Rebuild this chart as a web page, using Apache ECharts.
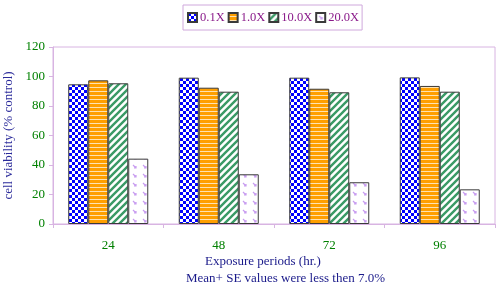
<!DOCTYPE html>
<html>
<head>
<meta charset="utf-8">
<script src="https://cdn.jsdelivr.net/npm/echarts@6/dist/echarts.min.js"></script>
<style>
  html, body { margin: 0; padding: 0; background: #fff; }
  #main { width: 500px; height: 286px; }
</style>
</head>
<body>
<div id="main"></div>
<script>
// data
var periods = ['24', '48', '72', '96'];
var doseNames = ['0.1X', '1.0X', '10.0X', '20.0X'];
var dose01 = [94.7, 99.2, 99.2, 99.4];
var dose1 = [97.4, 92.4, 91.7, 93.6];
var dose10 = [95.4, 89.7, 89.3, 89.7];
var dose20 = [44.3, 33.7, 28.3, 23.5];

var FONT = '"Liberation Serif", serif';

// small canvas tiles used as bar fills
function tile(w, h, draw) {
  var c = document.createElement('canvas');
  c.width = w; c.height = h;
  var ctx = c.getContext('2d');
  ctx.fillStyle = '#fff';
  ctx.fillRect(0, 0, w, h);
  draw(ctx);
  return { image: c, repeat: 'repeat' };
}

var checker = tile(6, 6, function (ctx) {
  ctx.fillStyle = '#0000ff';
  ctx.fillRect(0, 0, 3, 3);
  ctx.fillRect(3, 3, 3, 3);
});

var hstripe = tile(4, 4, function (ctx) {
  ctx.fillStyle = '#ff9f00';
  ctx.fillRect(0, 0, 4, 3);
  ctx.fillStyle = '#ffe2b0';
  ctx.fillRect(0, 3, 4, 1);
});

var diag = tile(7, 7, function (ctx) {
  ctx.strokeStyle = '#3a9a66';
  ctx.lineWidth = 2.4;
  ctx.beginPath();
  ctx.moveTo(-2, 9); ctx.lineTo(9, -2);
  ctx.moveTo(-2, 2); ctx.lineTo(2, -2);
  ctx.moveTo(5, 9); ctx.lineTo(9, 5);
  ctx.stroke();
});

var marks = tile(10, 9, function (ctx) {
  ctx.strokeStyle = '#c89cf0';
  ctx.lineWidth = 1.2;
  ctx.beginPath();
  ctx.moveTo(3, 3); ctx.lineTo(6, 6);
  ctx.moveTo(6, 4); ctx.lineTo(6, 6); ctx.lineTo(4, 6);
  ctx.stroke();
});

var fills = [checker, hstripe, diag, marks];
var values = [dose01, dose1, dose10, dose20];

var chart = echarts.init(document.getElementById('main'));
chart.setOption({
  animation: false,
  grid: {
    left: 53, right: 5, top: 47, bottom: 62,
    outerBoundsMode: 'none',
    show: true, borderColor: '#d8b4e2', borderWidth: 1
  },
  legend: {
    top: 5, left: 183,
    data: doseNames,
    itemWidth: 9, itemHeight: 9, itemGap: 3,
    padding: [6, 3, 6, 4],
    borderColor: '#cfa8dc', borderWidth: 1,
    icon: 'rect',
    textStyle: { color: '#8a1a8a', fontFamily: FONT, fontSize: 12.5, padding: [0, 0, 0, -2] }
  },
  xAxis: {
    type: 'category',
    data: periods,
    axisLine: { lineStyle: { color: '#d8b4e2' } },
    axisTick: { show: true, length: 4, lineStyle: { color: '#d8b4e2' } },
    axisLabel: { color: '#008000', fontFamily: FONT, fontSize: 13, margin: 15 }
  },
  yAxis: {
    type: 'value',
    min: 0, max: 120, interval: 20,
    name: 'cell viability (% control)',
    nameLocation: 'middle',
    nameGap: 38,
    nameTextStyle: { color: '#2a2a9a', fontFamily: FONT, fontSize: 13 },
    axisLine: { show: true, lineStyle: { color: '#d8b4e2' } },
    axisTick: { show: true, length: 4, lineStyle: { color: '#d8b4e2' } },
    splitLine: { show: false },
    axisLabel: { color: '#008000', fontFamily: FONT, fontSize: 13, margin: 8 }
  },
  graphic: [
    { type: 'text', top: 255, left: 205, style: {
      text: 'Exposure periods (hr.)', fill: '#1a1a8a',
      font: '13px ' + FONT } },
    { type: 'text', top: 272, left: 186, style: {
      text: 'Mean+ SE values were less then 7.0%', fill: '#1a1a8a',
      font: '13px ' + FONT } }
  ],
  series: doseNames.map(function (name, i) {
    return {
      name: name,
      type: 'bar',
      data: values[i],
      barWidth: 20,
      barGap: '0%',
      itemStyle: { color: fills[i], borderColor: '#3a3a3a', borderWidth: 1 }
    };
  })
});
</script>
</body>
</html>
